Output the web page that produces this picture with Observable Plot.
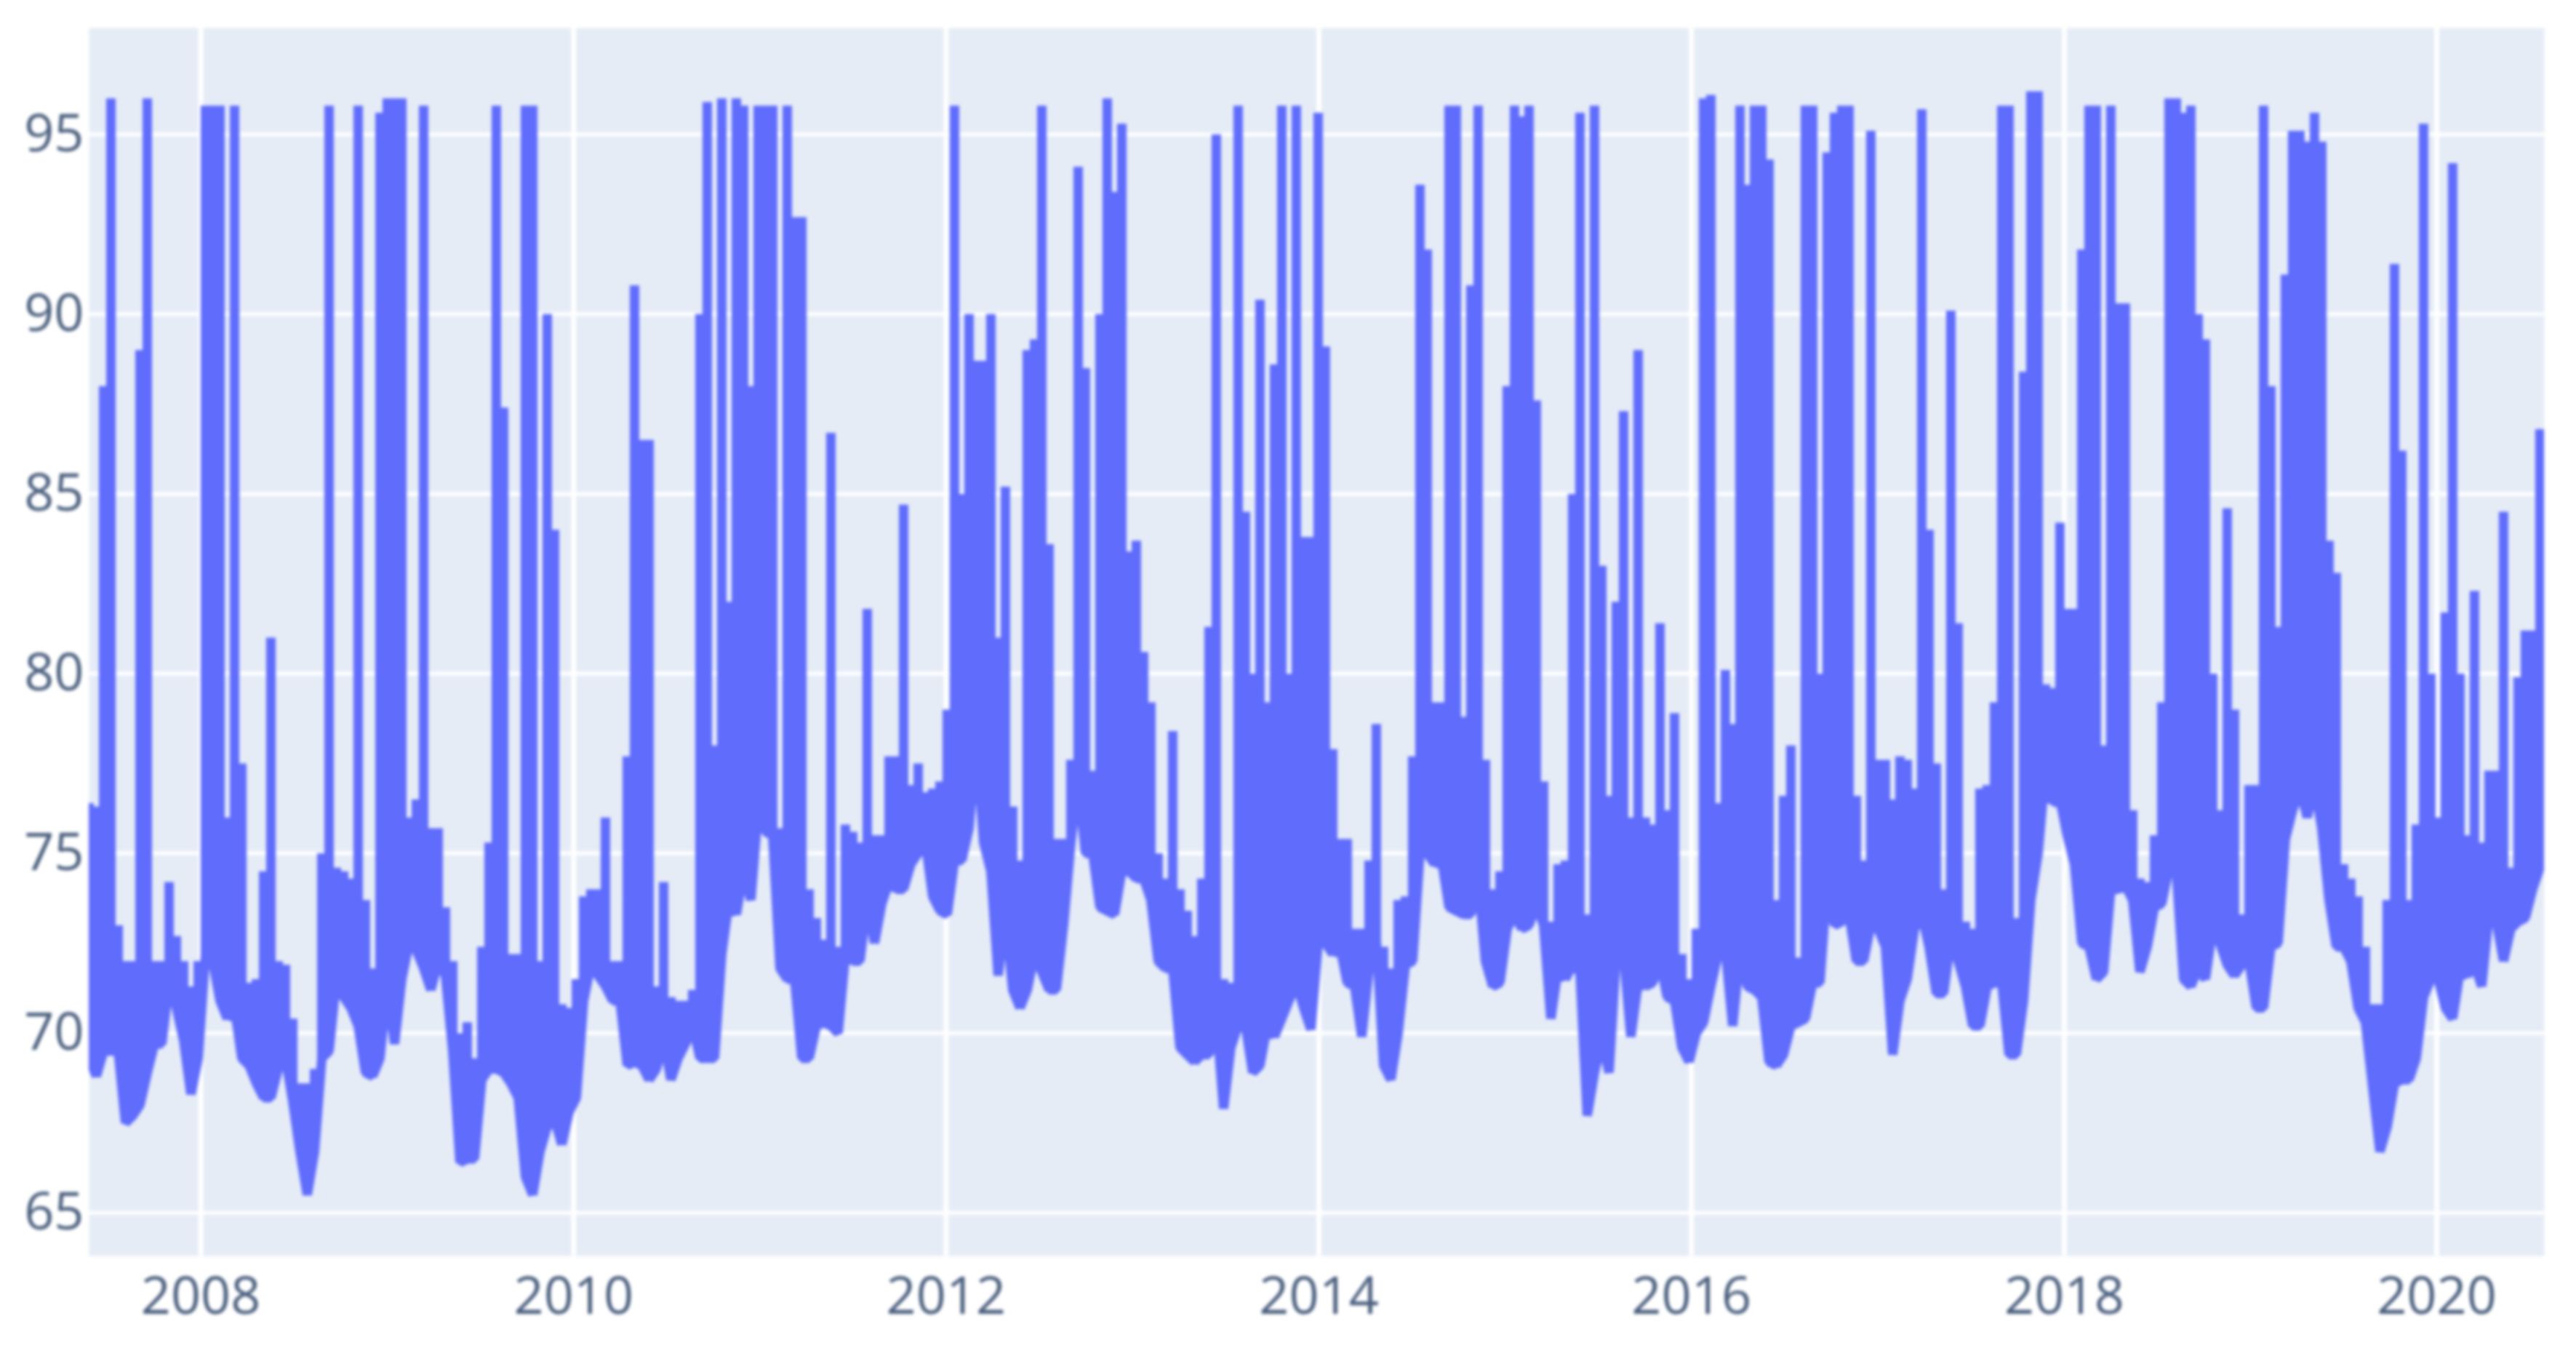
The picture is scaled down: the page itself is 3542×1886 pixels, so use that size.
<!DOCTYPE html>
<html>
<head>
<meta charset="utf-8">
<style>html,body{margin:0;padding:0;background:#fff}svg{display:block;filter:blur(2px)}</style>
<script src="https://cdn.jsdelivr.net/npm/d3@7"></script>
<script src="https://cdn.jsdelivr.net/npm/@observablehq/plot@0.6"></script>
</head>
<body>
<div id="chart"></div>
<script>
// Highest and lowest reading in each period of about two weeks.
const startDate = "2007-05-27";
const endDate = "2020-07-30";
const periodDays = 14.256;
const yTicks = [65, 70, 75, 80, 85, 90, 95];
const xTickYears = [2008, 2010, 2012, 2014, 2016, 2018, 2020];

const high1 = [76.4,76.3,88,96,73,72,72,89,96,72,72,74.2,72.7,72,71.3,72,95.8,95.8,95.8,76,95.8,77.5,71.4,71.5,74.5,81,72,71.9,70.4,68.6,68.6,69,75,95.8,74.6,74.5,74.3,95.8,73.7,71.8,95.6,96,96,96,76,76.5,95.8,75.7];
const low1  = [69.3,68.8,69.5,69.5,69.5,67.5,67.7,68,68.9,69.7,69.7,71.4,70.7,69.8,68.3,69.3,72.2,72,70.9,70.4,70.7,69.3,69.1,68.6,68.2,68.2,69,69.3,68.1,66.7,65.5,66.7,69.3,69.5,71.5,71,70.7,70.2,68.9,68.8,69.3,71.3,69.7,71.5,72.5,72.3,71.8,71.2];

const high2 = [75.7,73.5,72,70,70.3,69.3,72.4,75.3,95.8,87.4,72.2,72.2,95.8,95.8,72,90,84,70.8,70.7,71.5,73.8,74,74,76,72,72,77.7,90.8,86.5,86.5,71.3,74.2,71,70.9,70.9,71.2,90,95.9,78,96,82,96,95.8,88,95.8,95.8,95.8,75.7];
const low2  = [72,71.6,69.5,66.4,66.5,66.5,68.7,69,69,68.9,68.6,68.2,66,65.5,66.7,67.4,67.6,66.9,67.8,68.2,70.9,71.9,71.6,71.3,70.9,70.9,69.1,69.2,69.1,68.7,69,69.8,68.7,69.3,69.7,70.2,69.3,69.3,69.3,72.2,73.7,73.3,74.5,73.7,76.2,75.6,75.5,71.8];

const high3 = [95.8,92.7,92.7,74,73.2,72.6,86.7,72.4,75.8,75.6,75.3,81.8,75.5,75.5,77.7,77.7,84.7,76.9,77.5,76.7,76.8,77,79,95.8,85,90,88.7,88.7,90,81,85.2,76.3,74.8,89,89.3,95.8,83.6,75.4,75.4,77.6,94.1,88.5,77.3,90,96,93.4,95.3,83.4];
const low3  = [71.5,71.5,69.3,69.3,70.2,70.3,70.2,70,72.2,72,72,73.7,72.5,73.6,74.2,74,74,74.7,75,75.3,73.8,73.4,73.3,74.8,74.8,75.7,78.1,75.3,74.5,71.6,73.3,71.2,70.7,71.2,72.2,71.7,71.2,71.2,73,75.3,77,75,75,73.5,73.4,73.3,74.5,74.5];

const high4 = [83.7,80.6,79.2,75,74.3,78.4,74,73.4,72.7,74.3,81.3,95,71.5,71.4,95.8,84.5,80,90.4,79.2,88.6,95.8,80,95.8,83.8,83.8,95.6,89.1,77.9,75.4,75.4,72.9,72.9,74.8,78.6,72.4,71.8,73.7,73.8,77.7,93.6,91.8,79.2,79.2,95.8,95.8,78.8,90.8,95.8];
const low4  = [74.3,74.3,73.7,72,71.8,71.8,69.6,69.4,69.2,69.4,69.4,70.4,67.9,69.6,70.2,70.2,68.9,69.1,70.2,69.9,70.4,70.9,71.4,70.7,70.1,72.5,72.5,72.2,72.4,71.4,71.3,69.9,71.8,72.6,69.1,68.7,70,71.9,72,75,75,74.7,74.8,73.5,73.4,73.3,73.3,74.3];

const high5 = [77.6,74,74.5,88,95.8,95.5,95.8,87.6,77,73.1,74.7,74.8,85,95.6,73.3,95.8,83,76.6,82,87.3,76,89,76,75.8,81.4,76.2,78.9,72.2,71.5,72.9,96,96.1,76.4,80.1,78.6,95.8,93.6,95.8,95.8,94.3,73.7,76.6,78,72.1,95.8,95.8,80,94.5];
const low5  = [72,71.3,71.4,72.9,73.3,72.9,73,73.6,73,70.4,71.8,71.5,71.9,71.7,67.7,68.9,69.8,68.9,72.2,72.2,69.9,71.4,71.3,71.4,72,71,70.9,69.6,69.2,70,70.3,71.3,72.2,72.3,70.2,72.2,71.3,71.2,71,69.2,69.1,69.4,70.2,70.3,70.4,71.4,71.4,74.2];

const high6 = [95.6,95.8,95.8,76.6,74.8,95.1,77.6,77.6,76.5,77.7,77.6,76.8,95.7,84,77.5,74,90.1,81.4,73.1,72.9,76.8,76.9,79.2,95.8,95.8,73.2,88.4,96.2,96.2,79.7,79.6,84.2,81.8,81.8,91.8,95.8,95.8,78,95.8,90.3,90.3,76.2,74.3,74.2,75.5,79.2,96,96];
const low6  = [73,73.1,73.3,72,72,73,72.9,72.4,69.4,70.9,71.5,72.9,73.3,72.4,71.1,71.1,72.6,72,71.3,70.2,70.2,71.3,71.4,71.4,69.4,69.4,70.9,73.7,75,77.3,76.4,76.5,75.5,74.7,72.5,72.4,71.5,71.7,74,74,74.1,73.7,71.7,72.4,73.5,73.6,74.6,74.5];

const high7 = [95.6,95.8,90,89.3,80,76.2,84.6,79,73.3,76.9,76.9,95.8,88,81.3,91.1,95.1,95.1,94.8,95.6,94.8,83.7,82.8,74.7,74.3,73.8,72.4,70.8,70.8,73.7,91.4,86.2,73.7,75.8,95.3,80,76,81.7,94.2,80,75.5,82.3,75.3,77.3,77.3,84.5,74.6,79.9,81.2,81.2,86.8];
const low7  = [71.5,71.3,71.8,71.5,72.9,72.5,71.9,71.6,71.9,72,70.7,70.7,72.4,72.5,75.4,76.2,76.8,76,76.9,75.7,73.7,72.4,72.4,72,70.7,70.3,68.5,66.7,67.4,68.6,68.7,68.7,69.3,71,71.5,71.5,70.7,70.4,71.7,71.6,71.9,71.3,73.3,73.1,72,72.9,73.1,73.2,74,74.6];

const highs = [...high1, ...high2, ...high3, ...high4, ...high5, ...high6, ...high7];
const lows  = [...low1, ...low2, ...low3, ...low4, ...low5, ...low6, ...low7];

// Within every period the line rises to its high and falls back to its low.
const t0 = +new Date(startDate + "T00:00:00Z");
const points = highs.flatMap((h, i) => {
  const date = new Date(t0 + i * periodDays * 864e5);
  return [{date, value: lows[i]}, {date, value: h}, {date, value: lows[i]}];
});

const tickDates = xTickYears.map(y => new Date(Date.UTC(y, 0, 1)));

const chart = Plot.plot({
  width: 3542,
  height: 1886,
  marginLeft: 122,
  marginRight: 44,
  marginTop: 38,
  marginBottom: 160,
  style: {background: "#fff", fontFamily: "'Open Sans', sans-serif"},
  x: {type: "utc", domain: [new Date(startDate), new Date(endDate)]},
  y: {domain: [63.8, 97.96]},
  marks: [
    Plot.frame({fill: "#E5ECF6", stroke: null}),
    Plot.gridY(yTicks, {stroke: "#fff", strokeOpacity: 1, strokeWidth: 5}),
    Plot.gridX(tickDates, {stroke: "#fff", strokeOpacity: 1, strokeWidth: 7}),
    Plot.line(points, {x: "date", y: "value", stroke: "#5F6CFC", strokeWidth: 13, strokeLinejoin: "bevel", strokeLinecap: "butt", clip: true}),
    Plot.axisY(yTicks, {tickSize: 0, tickPadding: 7, fontSize: 72, fill: "#4a5f7e", label: null, anchor: "left"}),
    Plot.axisX(tickDates, {tickSize: 0, tickPadding: 28, fontSize: 72, fill: "#4a5f7e", label: null, tickFormat: d3.utcFormat("%Y"), anchor: "bottom"})
  ]
});
document.getElementById("chart").appendChild(chart);
</script>
</body>
</html>
